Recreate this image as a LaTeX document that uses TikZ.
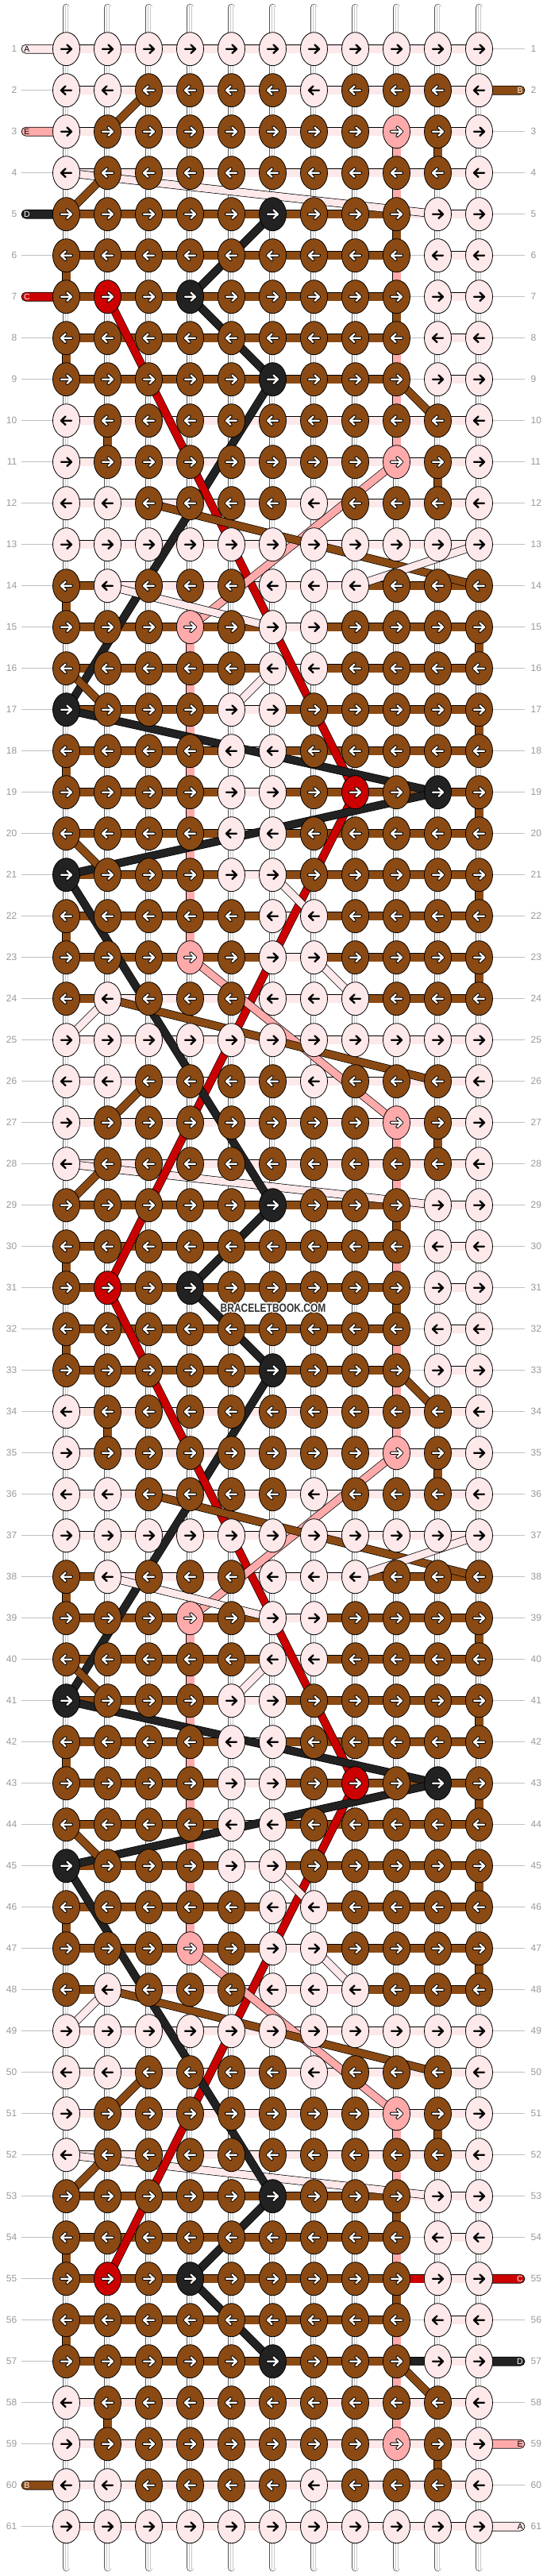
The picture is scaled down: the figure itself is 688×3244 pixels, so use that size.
\documentclass[tikz,border=0pt]{standalone}
\usepackage{fontspec}
\setmainfont{Liberation Sans}
\usetikzlibrary{shapes.geometric}
\definecolor{cP}{HTML}{FDE8EA}
\definecolor{cB}{HTML}{8B4A13}
\definecolor{cS}{HTML}{FFAAAA}
\definecolor{cK}{HTML}{222222}
\definecolor{cR}{HTML}{CC0000}
\definecolor{cNum}{HTML}{999999}
\definecolor{cLine}{HTML}{C0C0C0}
\definecolor{cWarp}{HTML}{555555}
\definecolor{cInner}{HTML}{C8C8C8}
\definecolor{cMark}{HTML}{333333}
\newcommand\setrow[2]{\expandafter\def\csname kr#1\endcsname{#2}}
\newcommand\setcon[2]{\expandafter\def\csname cr#1\endcsname{#2}}
% knot colours, template rows 1-24
\setrow{1}{P,P,P,P,P,P,P,P,P,P,P}
\setrow{2}{P,P,B,B,B,B,P,B,B,B,P}
\setrow{3}{P,B,B,B,B,B,B,B,S,B,P}
\setrow{4}{P,B,B,B,B,B,B,B,B,B,P}
\setrow{5}{B,B,B,B,B,K,B,B,B,P,P}
\setrow{6}{B,B,B,B,B,B,B,B,B,P,P}
\setrow{7}{B,R,B,K,B,B,B,B,B,P,P}
\setrow{8}{B,B,B,B,B,B,B,B,B,P,P}
\setrow{9}{B,B,B,B,B,K,B,B,B,P,P}
\setrow{10}{P,B,B,B,B,B,B,B,B,B,P}
\setrow{11}{P,B,B,B,B,B,B,B,S,B,P}
\setrow{12}{P,P,B,B,B,B,P,B,B,B,P}
\setrow{13}{P,P,P,P,P,P,P,P,P,P,P}
\setrow{14}{B,P,B,B,B,P,P,P,B,B,B}
\setrow{15}{B,B,B,S,B,P,P,B,B,B,B}
\setrow{16}{B,B,B,B,B,P,P,B,B,B,B}
\setrow{17}{K,B,B,B,P,P,B,B,B,B,B}
\setrow{18}{B,B,B,B,P,P,B,B,B,B,B}
\setrow{19}{B,B,B,B,P,P,B,R,B,K,B}
\setrow{20}{B,B,B,B,P,P,B,B,B,B,B}
\setrow{21}{K,B,B,B,P,P,B,B,B,B,B}
\setrow{22}{B,B,B,B,B,P,P,B,B,B,B}
\setrow{23}{B,B,B,S,B,P,P,B,B,B,B}
\setrow{24}{B,P,B,B,B,P,P,P,B,B,B}
% horizontal connectors between knots, template rows 1-24
\setcon{1}{P,P,P,P,P,P,P,P,P,P}
\setcon{2}{P,P,P,P,P,P,P,P,P,P}
\setcon{3}{P,P,P,P,P,P,P,P,P,P}
\setcon{4}{P,P,P,P,P,P,P,P,P,P}
\setcon{5}{B,B,B,B,B,B,B,B,P,P}
\setcon{6}{B,B,B,B,B,B,B,B,N,P}
\setcon{7}{B,B,B,B,B,B,B,B,N,P}
\setcon{8}{B,B,B,B,B,B,B,B,N,P}
\setcon{9}{B,B,B,B,B,B,B,B,N,P}
\setcon{10}{P,P,P,P,P,P,P,P,P,P}
\setcon{11}{P,P,P,P,P,P,P,P,P,P}
\setcon{12}{P,P,P,P,P,P,P,P,P,P}
\setcon{13}{P,P,P,P,P,P,P,P,P,P}
\setcon{14}{B,P,P,P,P,P,P,B,B,B}
\setcon{15}{B,B,B,B,B,P,B,B,B,B}
\setcon{16}{B,B,B,B,B,P,B,B,B,B}
\setcon{17}{B,B,B,B,P,B,B,B,B,B}
\setcon{18}{B,B,B,B,P,B,B,B,B,B}
\setcon{19}{B,B,B,B,P,B,B,B,B,B}
\setcon{20}{B,B,B,B,P,B,B,B,B,B}
\setcon{21}{B,B,B,B,P,B,B,B,B,B}
\setcon{22}{B,B,B,B,B,P,B,B,B,B}
\setcon{23}{B,B,B,B,B,P,B,B,B,B}
\setcon{24}{B,P,P,P,P,P,P,B,B,B}
\tikzset{
  knotnode/.style={ellipse, draw=black, line width=0.8pt, minimum width=34pt, minimum height=42pt, inner sep=0pt},
  barline/.style={draw=black, double=#1, double distance=10pt, line width=0.7pt},
  dline/.style={draw=black, double=#1, double distance=9pt, line width=0.7pt},
  rownum/.style={text=cNum, font=\fontsize{12}{12}\selectfont, inner sep=0pt},
  labtext/.style={font=\fontsize{10.5}{10.5}\selectfont, inner sep=0pt},
  arr/.style={line width=#1, line cap=round, line join=round}
}
\newcommand\myvseg[3]{\foreach \k in {0,24,48}{%
  \pgfmathtruncatemacro\ra{#1+\k}\pgfmathtruncatemacro\rb{#1+\k+1}%
  \ifnum\rb<62 \draw[barline=#3] (k-\ra-#2) -- (k-\rb-#2);\fi}}
\newcommand\mydiag[5]{\foreach \k in {0,24,48}{%
  \pgfmathtruncatemacro\ra{#2+\k}\pgfmathtruncatemacro\rb{#4+\k}%
  \ifnum\rb<62 \draw[dline=#1] (k-\ra-#3) -- (k-\rb-#5);\fi}}
\newcommand\labL[4]{% row, colour, letter, text colour
  \draw[draw=black, line width=0.7pt, fill=#2, rounded corners=5.5pt] (27,{9.7+52*#1-5.5}) rectangle (82,{9.7+52*#1+5.5});
  \node[labtext, text=#4] (labL-#1) at (34,{9.7+52*#1}) {#3};}
\newcommand\labR[4]{%
  \draw[draw=black, line width=0.7pt, fill=#2, rounded corners=5.5pt] (585,{9.7+52*#1-5.5}) rectangle (661,{9.7+52*#1+5.5});
  \node[labtext, text=#4] (labR-#1) at (655,{9.7+52*#1}) {#3};}
\newcommand\marktext{\scalebox{0.8}[1]{BRACELETBOOK.COM}}
\begin{document}
\begin{tikzpicture}[x=1pt,y=-1pt]
\useasboundingbox (0,0) rectangle (688,3244);
\fill[white] (0,0) rectangle (688,3244);
% knot centres
\foreach \r in {1,...,61}{\foreach \c in {1,...,11}{\coordinate (k-\r-\c) at ({31.5+52*\c},{9.7+52*\r});}}
% thin grey row lines
\foreach \r in {1,...,61}{\draw[cLine, line width=0.8pt] (27,{9.7+52*\r}) -- (661,{9.7+52*\r});}
% warp strands
\foreach \c in {1,...,11}{
  \draw[draw=cWarp, double=white, double distance=8pt, line width=0.7pt, line cap=round] ({31.5+52*\c},9.5) -- ({31.5+52*\c},3233.5);
  \draw[cInner, line width=0.5pt] ({31.5+52*\c-1.6},7) -- ({31.5+52*\c-1.6},3236);
  \draw[cInner, line width=0.5pt] ({31.5+52*\c+1.6},7) -- ({31.5+52*\c+1.6},3236);
}
% start / end strands
\labL{1}{cP}{A}{black}
\labL{3}{cS}{E}{black}
\labL{5}{cK}{D}{white}
\labL{7}{cR}{C}{white}
\labL{60}{cB}{B}{white}
\labR{2}{cB}{B}{white}
\labR{55}{cR}{C}{white}
\labR{57}{cK}{D}{white}
\labR{59}{cS}{E}{black}
\labR{61}{cP}{A}{black}
% horizontal connectors
\foreach \r in {1,...,61}{
  \pgfmathtruncatemacro\t{mod(\r-1,24)+1}
  \expandafter\let\expandafter\conlist\csname cr\t\endcsname
  \foreach \cc [count=\c] in \conlist {
    \pgfmathtruncatemacro\cn{\c+1}
    \if\cc N\else \draw[barline=c\cc] (k-\r-\c) -- (k-\r-\cn);\fi
  }
}
\draw[barline=cR] (k-55-9) -- (k-55-10);
\draw[barline=cK] (k-57-9) -- (k-57-10);
% coloured vertical segments
\myvseg{3}{9}{cS}\myvseg{4}{9}{cS}\myvseg{5}{9}{cB}\myvseg{6}{9}{cS}
\myvseg{7}{9}{cB}\myvseg{8}{9}{cS}\myvseg{9}{9}{cS}\myvseg{10}{9}{cS}
\myvseg{3}{10}{cB}\myvseg{11}{10}{cB}
\myvseg{6}{1}{cB}\myvseg{8}{1}{cB}\myvseg{14}{1}{cB}\myvseg{18}{1}{cB}\myvseg{22}{1}{cB}
\myvseg{10}{2}{cB}
\foreach \q in {15,...,22}{\myvseg{\q}{4}{cS}}
\myvseg{15}{11}{cB}\myvseg{17}{11}{cB}\myvseg{19}{11}{cB}\myvseg{21}{11}{cB}\myvseg{23}{11}{cB}
% carried threads
\mydiag{cB}{2}{3}{3}{2}
\mydiag{cB}{4}{2}{5}{1}
\mydiag{cP}{4}{1}{5}{10}
\mydiag{cK}{5}{6}{7}{4}
\mydiag{cK}{7}{4}{9}{6}
\mydiag{cB}{9}{9}{10}{10}
\mydiag{cK}{9}{6}{17}{1}
\mydiag{cR}{7}{2}{19}{8}
\mydiag{cS}{11}{9}{15}{4}
\mydiag{cB}{12}{3}{14}{11}
\mydiag{cP}{13}{11}{14}{8}
\mydiag{cP}{14}{2}{15}{6}
\mydiag{cB}{16}{1}{17}{2}
\mydiag{cP}{16}{6}{17}{5}
\mydiag{cK}{17}{1}{19}{10}
\mydiag{cR}{19}{8}{31}{2}
\mydiag{cK}{19}{10}{21}{1}
\mydiag{cB}{20}{1}{21}{2}
\mydiag{cK}{21}{1}{29}{6}
\mydiag{cP}{21}{6}{22}{7}
\mydiag{cP}{23}{7}{24}{8}
\mydiag{cS}{23}{4}{27}{9}
\mydiag{cB}{24}{2}{26}{10}
\mydiag{cP}{24}{2}{25}{1}
% knots and arrows
\foreach \r in {1,...,61}{
  \pgfmathtruncatemacro\t{mod(\r-1,24)+1}
  \pgfmathsetmacro\dir{ifthenelse(mod(\r,2)==1,1,-1)}
  \expandafter\let\expandafter\rowlist\csname kr\t\endcsname
  \foreach \cc [count=\c] in \rowlist {
    \node[knotnode, fill=c\cc] (n-\r-\c) at (k-\r-\c) {};
    \if\cc P
      \draw[shift={(k-\r-\c)}, xscale=\dir, arr=2.4pt, black] (-6.5,0) -- (6.3,0) (1,-5.2) -- (6.5,0) -- (1,5.2);
    \else
      \draw[shift={(k-\r-\c)}, xscale=\dir, arr=4.2pt, black] (-6.5,0) -- (6.3,0) (1,-5.2) -- (6.5,0) -- (1,5.2);
      \draw[shift={(k-\r-\c)}, xscale=\dir, arr=2.3pt, white] (-6.5,0) -- (6.3,0) (1,-5.2) -- (6.5,0) -- (1,5.2);
    \fi
  }
}
% row numbers
\foreach \r in {1,...,61}{
  \node[rownum, anchor=east] (numL-\r) at (21.5,{9.7+52*\r}) {\r};
  \node[rownum, anchor=west] (numR-\r) at (668.5,{9.7+52*\r}) {\r};
}
% watermark with white halo
\foreach \dx/\dy in {-1.2/0,1.2/0,0/-1.2,0/1.2,-0.9/-0.9,0.9/0.9,-0.9/0.9,0.9/-0.9}{
  \node[font=\bfseries\fontsize{15}{15}\selectfont, text=white, inner sep=0pt] at ({344+\dx},{1647+\dy}) {\marktext};
}
\node[font=\bfseries\fontsize{15}{15}\selectfont, text=cMark, inner sep=0pt] (wm) at (344,1647) {\marktext};
\end{tikzpicture}
\end{document}
